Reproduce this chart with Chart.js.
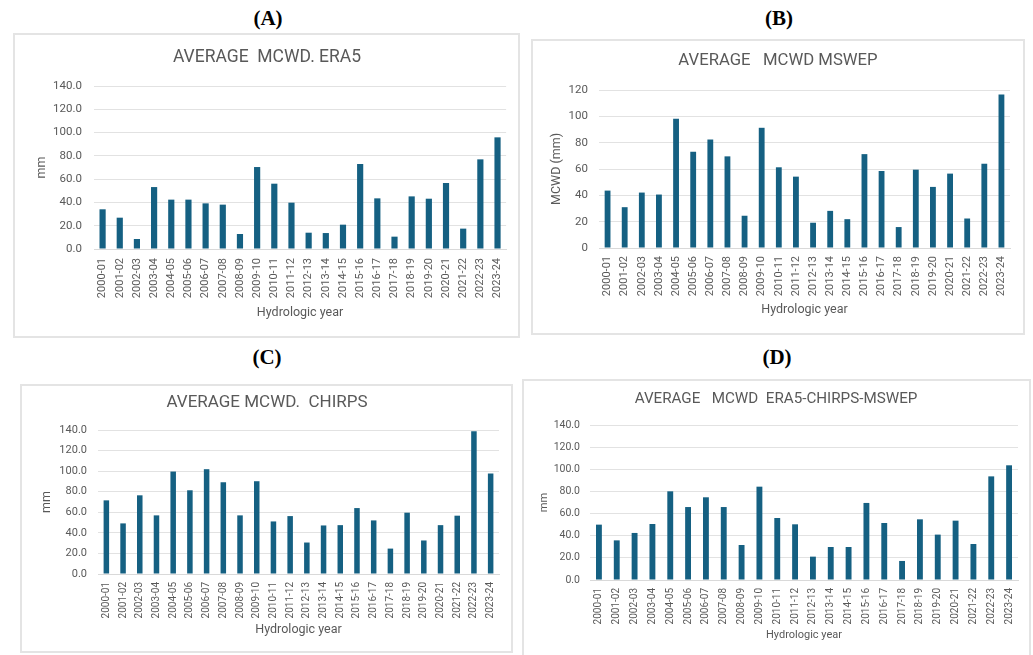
<!DOCTYPE html>
<html><head><meta charset="utf-8">
<script src="https://cdn.jsdelivr.net/npm/chart.js@4/dist/chart.umd.min.js"></script>
<style>
html,body{margin:0;padding:0;background:#fff;}
body{width:1033px;height:655px;overflow:hidden;position:relative;}
.lbl{position:absolute;font:bold 21px "Liberation Serif","Times New Roman",serif;color:#000;transform:translate(-50%,-50%);white-space:nowrap;}
.box{position:absolute;border:2px solid #e4e4e4;box-sizing:border-box;pointer-events:none;}
canvas{position:absolute;}
</style></head>
<body>
<script>
// ---- data ----
const years = ["2000-01","2001-02","2002-03","2003-04","2004-05","2005-06","2006-07","2007-08","2008-09","2009-10","2010-11","2011-12","2012-13","2013-14","2014-15","2015-16","2016-17","2017-18","2018-19","2019-20","2020-21","2021-22","2022-23","2023-24"];
const era5 = [34.1,26.9,8.6,53.2,42.4,42.4,39.2,38.1,12.9,70.4,56.1,39.8,14.0,13.7,20.9,73.0,43.5,10.6,45.2,43.2,56.7,17.5,77.0,95.9];
const mswep = [43.6,31.0,42.1,40.6,98.1,73.1,82.4,69.6,24.5,91.3,61.3,54.2,19.2,28.2,21.9,71.3,58.5,15.9,59.5,46.4,56.5,22.4,64.0,116.5];
const chirps = [71.6,49.2,76.5,57.0,99.6,81.4,101.9,89.2,57.0,90.2,51.1,56.3,30.6,47.2,47.5,64.1,52.1,24.7,59.6,32.6,47.5,56.7,138.7,97.7];
const combined = [50.0,35.8,42.5,50.6,80.1,65.9,74.7,65.9,31.6,84.3,56.0,50.3,21.1,29.8,29.8,69.6,51.5,17.2,54.8,41.0,53.6,32.5,93.6,103.6];
const yMaxMm = 140, yMaxB = 120, yStep = 20;
const titles = ["AVERAGE  MCWD. ERA5","AVERAGE   MCWD MSWEP","AVERAGE MCWD.  CHIRPS","AVERAGE   MCWD  ERA5-CHIRPS-MSWEP"];
const panelLabels = ["(A)","(B)","(C)","(D)"];
const xTitle = "Hydrologic year";

// ---- styling / layout ----
const F = "Roboto, 'Open Sans', sans-serif";
const TXT = "#595959";
const BAR = "#156082";
const GRID = "#e2e2e2";

const panels = [
 {lbl:[268,18], x:13,y:33,w:507,h:305, data:era5, title:titles[0], max:yMaxMm, dec:true, yTitle:"mm",
  ts:17.5, tTop:14, plotTop:53, xH:89, xTickPad:9, xTitleFromBottom:25, padL:14, yW:67, yTickPad:12, yTitleC:29, padR:13,
  tickFont:11.5, xFont:11, axFont:12.5, bar:0.36},
 {lbl:[779,18], x:531,y:39,w:494,h:296, data:mswep, title:titles[1], max:yMaxB, dec:false, yTitle:"MCWD (mm)",
  ts:16.7, tTop:12, plotTop:51, xH:87, xTickPad:8, xTitleFromBottom:25, padL:15, yW:53, yTickPad:11, yTitleC:26, padR:15,
  tickFont:11.5, xFont:11, axFont:12.5, bar:0.34},
 {lbl:[267,357], x:20,y:384,w:493,h:269, data:chirps, title:titles[2], max:yMaxMm, dec:true, yTitle:"mm",
  ts:17, tTop:9, plotTop:46, xH:79, xTickPad:8, xTitleFromBottom:23, padL:15, yW:63, yTickPad:11, yTitleC:27, padR:14,
  tickFont:11, xFont:10, axFont:12.5, bar:0.33},
 {lbl:[777,357], x:522,y:379,w:509,h:285, data:combined, title:titles[3], max:yMaxMm, dec:true, yTitle:"mm",
  ts:15.2, tTop:11, plotTop:46, xH:84, xTickPad:8, xTitleFromBottom:29, padL:12, yW:56, yTickPad:10, yTitleC:22, padR:13,
  tickFont:10.5, xFont:10, axFont:11, bar:0.33}
];

panels.forEach((p,i)=>{
  const l = document.createElement('div'); l.className='lbl'; l.textContent=panelLabels[i];
  l.style.left=p.lbl[0]+'px'; l.style.top=p.lbl[1]+'px'; document.body.appendChild(l);
  const c = document.createElement('canvas'); c.width=p.w; c.height=p.h;
  c.style.left=p.x+'px'; c.style.top=p.y+'px'; c.style.width=p.w+'px'; c.style.height=p.h+'px';
  document.body.appendChild(c);
  const b = document.createElement('div'); b.className='box';
  b.style.left=p.x+'px'; b.style.top=p.y+'px'; b.style.width=p.w+'px'; b.style.height=p.h+'px';
  document.body.appendChild(b);
  const tlh = p.ts*1.2, alh = p.axFont*1.2;
  new Chart(c, {
    type:'bar',
    data:{labels:years, datasets:[{data:p.data, backgroundColor:BAR, barPercentage:p.bar, categoryPercentage:1}]},
    options:{
      responsive:false, animation:false, devicePixelRatio:1,
      layout:{padding:{left:p.padL,right:p.padR,top:0,bottom:0}},
      plugins:{legend:{display:false}, tooltip:{enabled:false},
        title:{display:true, text:p.title, color:TXT, font:{family:F,size:p.ts,weight:'normal'},
          padding:{top:p.tTop, bottom:p.plotTop-p.tTop-tlh}}},
      scales:{
        x:{grid:{display:false,drawTicks:false}, border:{display:true,color:'#d9d9d9'},
          ticks:{autoSkip:false,minRotation:90,maxRotation:90,padding:p.xTickPad,color:TXT,font:{family:F,size:p.xFont}},
          title:{display:true,text:xTitle,color:TXT,font:{family:F,size:p.axFont},padding:{top:0,bottom:p.xTitleFromBottom-alh/2}},
          afterFit:s=>{s.height=p.xH;}},
        y:{min:0,max:p.max,
          ticks:{stepSize:yStep,padding:p.yTickPad,color:TXT,font:{family:F,size:p.tickFont},
            callback:v=>p.dec?Number(v).toFixed(1):String(v)},
          grid:{color:GRID,drawTicks:false}, border:{display:false},
          title:{display:true,text:p.yTitle,color:TXT,font:{family:F,size:p.axFont},padding:{top:p.yTitleC-p.padL-alh/2,bottom:0}},
          afterFit:s=>{s.width=p.yW;}}
      }
    }
  });
});
</script>
</body></html>
